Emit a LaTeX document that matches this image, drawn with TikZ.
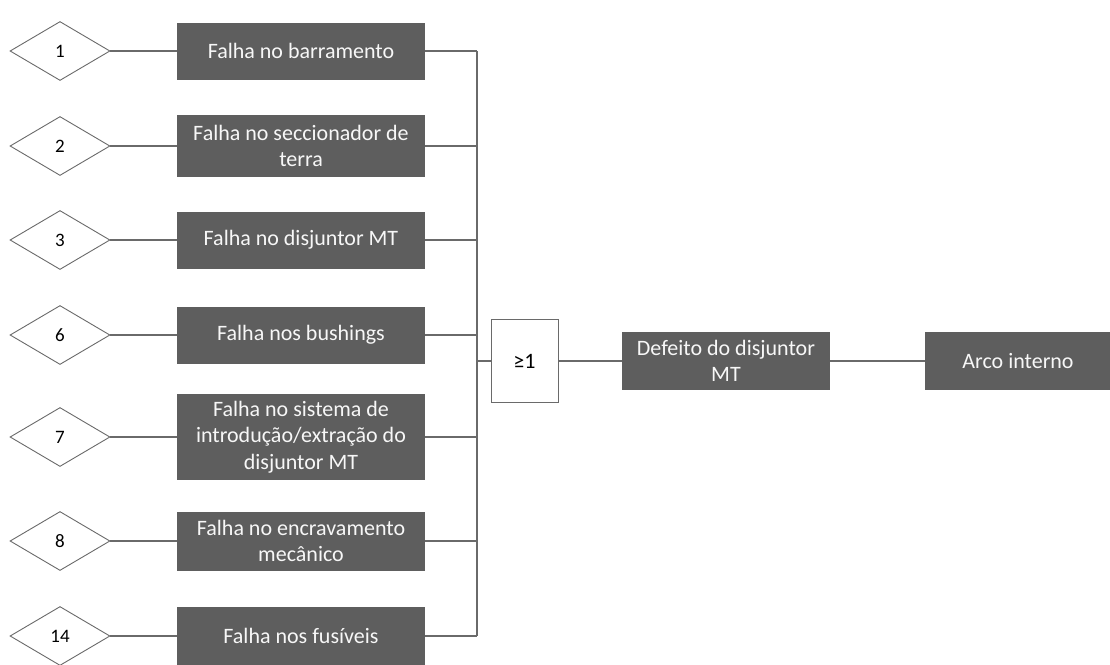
\documentclass[tikz,border=0pt]{standalone}
\usepackage{fontspec}
\setmainfont{Carlito}
\usetikzlibrary{shapes.geometric}
\definecolor{boxgray}{HTML}{5E5E5E}
\definecolor{linegray}{HTML}{6A6A6A}
\begin{document}
\begin{tikzpicture}[x=1pt,y=-1pt,
  event/.style={draw=linegray,line width=0.9pt,fill=white,shape=diamond,
    minimum width=100pt,minimum height=59pt,inner sep=0pt,
    font=\fontsize{19}{22}\selectfont},
  cause/.style={fill=boxgray,text=white!94!gray,minimum width=248pt,
    minimum height=57pt,inner sep=2pt,align=center,
    font=\fontsize{22}{26.5}\selectfont},
  gate/.style={draw=linegray,line width=1pt,fill=white,minimum width=67pt,
    minimum height=83pt,inner sep=0pt,font=\fontsize{22}{24}\selectfont},
  wire/.style={draw=linegray,line width=1.3pt}]
\useasboundingbox (0,0) rectangle (1110,664);

% numbered basic events
\node[event] (d1)  at (60,51)  {1};
\node[event] (d2)  at (60,146) {2};
\node[event] (d3)  at (60,240) {3};
\node[event] (d6)  at (60,335) {6};
\node[event] (d7)  at (60,437) {7};
\node[event] (d8)  at (60,541) {8};
\node[event] (d14) at (60,636) {14};

% failure modes
\node[cause] (b1)  at (301,51)  {Falha no barramento};
\node[cause,minimum height=62pt] (b2)  at (301,146) {Falha no seccionador de\\terra};
\node[cause] (b3)  at (301,240) {Falha no disjuntor MT};
\node[cause] (b6)  at (301,335) {Falha nos bushings};
\node[cause,minimum height=86pt] (b7)  at (301,437) {Falha no sistema de\\introdução/extração do\\disjuntor MT};
\node[cause,minimum height=59pt] (b8)  at (301,541) {Falha no encravamento\\mecânico};
\node[cause,minimum height=58pt] (b14) at (301,636) {Falha nos fusíveis};

% OR gate and its consequences
\node[gate] (or) at (524.5,361) {≥1};
\node[cause,minimum width=208pt,minimum height=58pt] (def) at (726,361) {Defeito do disjuntor\\MT};
\node[cause,minimum width=186pt,minimum height=58pt] (arc) at (1018,361) {Arco interno};

% collecting bus
\coordinate (bus) at (477,361);
\foreach \i in {1,2,3,6,7,8,14}{
  \draw[wire] (d\i.east) -- (b\i.west);
  \draw[wire] (b\i.east) -- (bus |- b\i.east);
}
\draw[wire] (bus |- b1.east) -- (bus |- b14.east);
\draw[wire] (bus) -- (or.west);
\draw[wire] (or.east) -- (def.west);
\draw[wire] (def.east) -- (arc.west);
\end{tikzpicture}
\end{document}
